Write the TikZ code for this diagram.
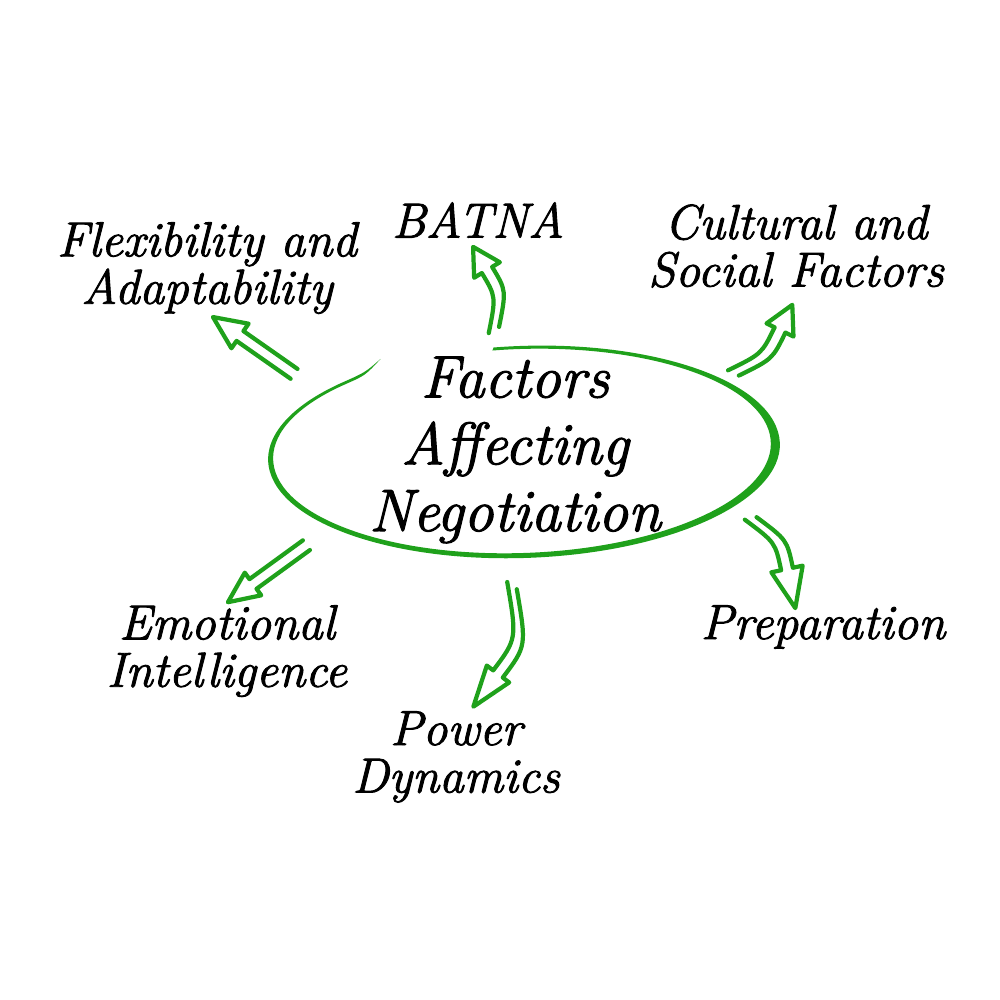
\documentclass[tikz,border=0pt]{standalone}
\usepackage{fontspec}
\newfontfamily\factorfont{Latin Modern Roman}[FakeBold=1.8]
\usepackage{xcolor}
\definecolor{leafgreen}{HTML}{1FA11B}
\usepackage{tikz}
\usetikzlibrary{calc}

\tikzset{
  pics/hollow/.style n args={4}{code={
    % shaft (two lines), then the open head
    \draw[arrowline] (-#1,#2+6) .. controls (-#1/2,6) .. (0,6) -- (0,#4) -- (#3,0)
      -- (0,-#4) -- (0,-6) .. controls (-#1/2,-6) .. (-#1,#2-6);
  }}
}

\begin{document}
\begin{tikzpicture}[x=0.01cm, y=0.01cm,
  arrowline/.style={leafgreen, line width=1.2pt, line join=round, line cap=round},
  factortext/.style={align=center, inner sep=0pt, font=\fontsize{14}{13.5}\selectfont\factorfont\itshape},
  hubtext/.style={align=center, inner sep=0pt, font=\fontsize{17}{19}\selectfont\factorfont\itshape}]
  \useasboundingbox (0,0) rectangle (1000,1000);

  % Hand drawn ring
  \begin{scope}[rotate around={2:(522,548)}]
    \fill[leafgreen] ($(524,548)+(96:256 and 106)$)
      arc[start angle=96, end angle=-226, x radius=256, y radius=106]
      .. controls (368,633) .. (384,646) coordinate (ringend)
      .. controls (368,630) .. ($(522,549)+(-226:249 and 102)$)
      arc[start angle=-226, end angle=96, x radius=249, y radius=102] -- cycle;
  \end{scope}
  \node[hubtext] (hub) at (515,550) {Factors\\Affecting\\Negotiation};

  % Factors
  \foreach \name/\x/\y/\txt in {flex/207/732/{Flexibility and\\Adaptability},
      batna/478/780/{BATNA}, cult/796/754/{Cultural and\\Social Factors},
      prep/823/373/{Preparation}, emo/227/349/{Emotional\\Intelligence},
      power/456/243/{Power\\Dynamics}} {
    \node[factortext] (\name) at (\x,\y) {\txt};
  }

  % Arrows: base of head, angle, shaft length, bend, head length, head half width
  \foreach \name/\x/\y/\ang/\len/\bend/\hl/\hw in {flex/240/664/145/66/0/33/15,
      batna/487/730/121/55/25/27/15, cult/780/670/64/59/23/28/15,
      prep/787/431/-78/57/-25/40/16, power/498/326/-127/79/-42/41/14,
      emo/253/416/216/66/0/31/14} {
    \coordinate (\name A) at (\x,\y);
    \pic[rotate=\ang] at (\name A) {hollow={\len}{\bend}{\hl}{\hw}};
  }
\end{tikzpicture}
\end{document}
